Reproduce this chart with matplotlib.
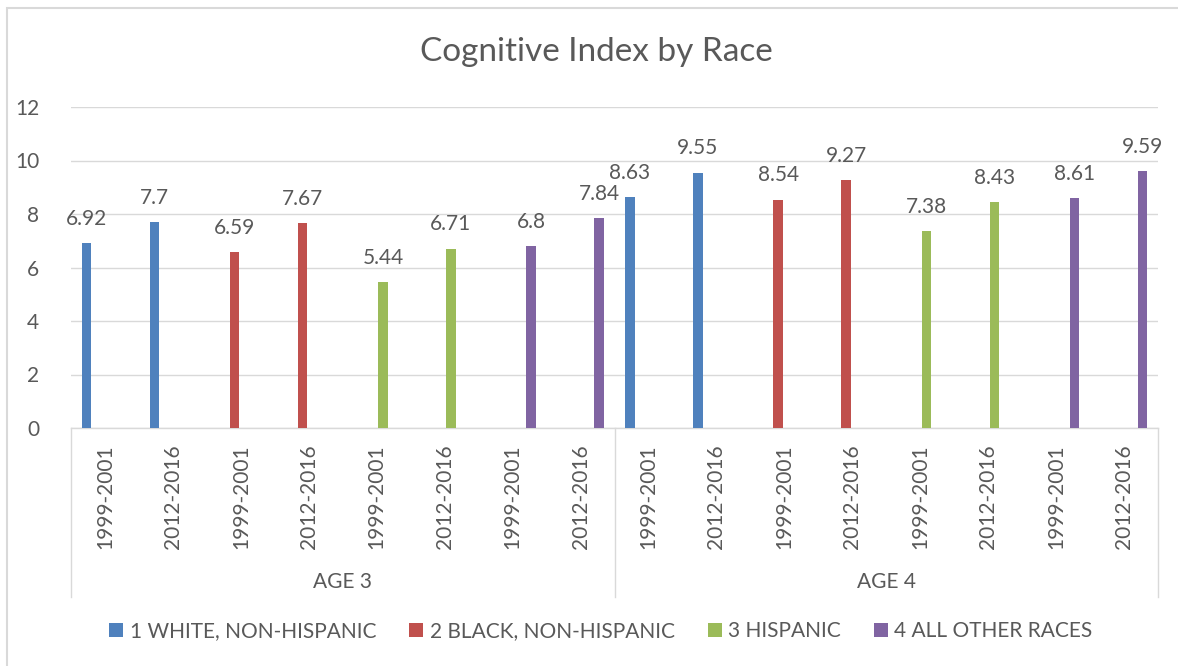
import numpy as np
import matplotlib
matplotlib.use("Agg")
import matplotlib.pyplot as plt
from matplotlib.patches import Patch, Rectangle
import matplotlib.transforms as mtransforms

plt.rcParams["font.family"] = ["Lato", "DejaVu Sans"]

g_text_color = "#595959"
g_grid_color = "#D9D9D9"

title = "Cognitive Index by Race"
races = ["1 WHITE, NON-HISPANIC", "2 BLACK, NON-HISPANIC", "3 HISPANIC", "4 ALL OTHER RACES"]
colors = ["#4F81BD", "#C0504D", "#9BBB59", "#8064A2"]
ages = ["AGE 3", "AGE 4"]
periods = ["1999-2001", "2012-2016"]

# values per race (white, black, hispanic, other)
age3_1999 = [6.92, 6.59, 5.44, 6.8]
age3_2012 = [7.7, 7.67, 6.71, 7.84]
age4_1999 = [8.63, 8.54, 7.38, 8.61]
age4_2012 = [9.55, 9.27, 8.43, 9.59]


def main():
    W, H = 1178, 666
    fig = plt.figure(figsize=(W / 100, H / 100), dpi=100)
    ax = fig.add_axes([71 / W, (H - 428) / H, (1158 - 71) / W, (428 - 107) / H])

    n_cat = len(ages) * len(races) * len(periods)
    spacing = 0.183
    width = 0.14

    tick_labels = []
    for a in range(len(ages)):
        for r in range(len(races)):
            for p in range(len(periods)):
                tick_labels.append(periods[p])

    vals = {(0, 0): age3_1999, (0, 1): age3_2012, (1, 0): age4_1999, (1, 1): age4_2012}

    for r in range(len(races)):
        xs = []
        ys = []
        for a in range(len(ages)):
            for p in range(len(periods)):
                cat = a * 8 + r * 2 + p
                xs.append(cat + (r - 1.5) * spacing)
                ys.append(vals[(a, p)][r])
        bars = ax.bar(xs, ys, width=width, color=colors[r], zorder=3)
        for b, v in zip(bars, ys):
            ax.annotate(f"{v:g}", (b.get_x() + b.get_width() / 2, v), xytext=(0, 13),
                        textcoords="offset points", ha="center", va="baseline",
                        fontsize=15, color=g_text_color)

    ax.set_xlim(-0.5, n_cat - 0.5)
    ax.set_ylim(0, 12)
    ax.set_yticks(np.arange(0, 13, 2))
    ax.set_xticks(np.arange(n_cat))
    ax.set_xticklabels(tick_labels, rotation=90)
    ax.tick_params(axis="x", length=0, pad=12, labelsize=15, labelcolor=g_text_color)
    ax.tick_params(axis="y", length=0, pad=23, labelsize=15, labelcolor=g_text_color)
    ax.grid(axis="y", color=g_grid_color, linewidth=1.0, zorder=0)
    for s in ["left", "right", "top"]:
        ax.spines[s].set_visible(False)
    ax.spines["bottom"].set_color(g_grid_color)
    ax.spines["bottom"].set_linewidth(1.0)

    # group dividers and group labels
    trans = mtransforms.blended_transform_factory(ax.transData, ax.transAxes)
    y_bot = (428 - 597) / (428 - 107)
    for xd in [-0.5, 7.5, 15.5]:
        ax.plot([xd, xd], [0, y_bot], transform=trans, color=g_grid_color,
                linewidth=1.0, clip_on=False)
    y_age = (428 - 582) / (428 - 107)
    for a, lab in enumerate(ages):
        ax.text(a * 8 + 3.5, y_age, lab, transform=trans, ha="center", va="center",
                fontsize=15, color=g_text_color)

    fig.text(0.506, 1 - 52 / H, title, ha="center", va="center", fontsize=24, color=g_text_color)

    handles = [Patch(facecolor=c, edgecolor="none") for c in colors]
    leg = fig.legend(handles, races, loc="center", bbox_to_anchor=(601 / W, 1 - 631 / H),
                     ncol=4, frameon=False, fontsize=15, handlelength=0.67, handleheight=0.67,
                     handletextpad=0.3, columnspacing=1.6)
    for t in leg.get_texts():
        t.set_color(g_text_color)

    fig.patches.append(Rectangle((7 / W, -0.1), 2, 1 - 8 / H + 0.1, transform=fig.transFigure,
                                 fill=False, edgecolor=g_grid_color, linewidth=1.5))

    fig.savefig("out.png", dpi=100)


if __name__ == "__main__":
    main()
